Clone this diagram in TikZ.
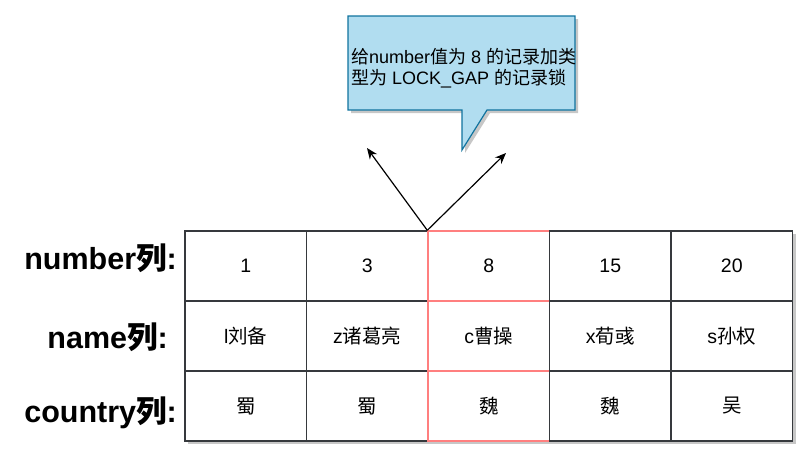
\documentclass[tikz,border=0pt]{standalone}
\usepackage{fontspec}
\setmainfont{Liberation Sans}
\newfontfamily\cjk{Noto Sans CJK SC}
\usetikzlibrary{arrows.meta,shadows}

\definecolor{notefill}{HTML}{B1DDF0}
\definecolor{noteline}{HTML}{10739E}
\definecolor{cellline}{HTML}{36393D}
\definecolor{lockline}{HTML}{FF7F7F}

\tikzset{
  cellshadow/.style={general shadow={fill=black!22, shadow xshift=3pt, shadow yshift=-3pt}},
  cell/.style={draw=cellline, line width=1.4pt, fill=white, cellshadow,
    minimum width=121.5pt, minimum height=70pt, inner sep=0pt,
    font=\fontsize{19.5}{22}\selectfont},
  lockcell/.style={cell, draw=lockline},
  collabel/.style={inner sep=0pt, font=\fontsize{30.5}{33}\selectfont\bfseries},
  pointer/.style={-{Stealth[length=11pt, width=9pt]}, line width=1.2pt},
  notebox/.style={draw=noteline, fill=notefill, line width=1.2pt, cellshadow}
}

\begin{document}
\begin{tikzpicture}[x=1pt, y=-1pt]
  \useasboundingbox (0, 0) rectangle (804, 464);

  % callout
  \draw [notebox] (348, 16) -- (575, 16) -- (575, 110) -- (487, 110)
    -- (462, 150) -- (462, 110) -- (348, 110) -- cycle;
  \node [anchor=north west, align=left, inner sep=0pt,
    font=\fontsize{18}{21}\selectfont] (note) at (351, 48)
    {{\cjk 给}number{\cjk 值为} 8 {\cjk 的记录加类}\\{\cjk 型为} LOCK\_GAP {\cjk 的记录锁}};

  % table
  \foreach \num/\who/\land [count=\i] in
    {1/l{\cjk 刘备}/{\cjk 蜀}, 3/z{\cjk 诸葛亮}/{\cjk 蜀}, 8/c{\cjk 曹操}/{\cjk 魏},
     15/x{\cjk 荀彧}/{\cjk 魏}, 20/s{\cjk 孙权}/{\cjk 吴}} {
    \ifnum\i=3
      \tikzset{thiscell/.style={lockcell}}
    \else
      \tikzset{thiscell/.style={cell}}
    \fi
    \node [thiscell] (num\i) at (185 + 121.5*\i - 60.75, 266) {\num};
    \node [thiscell] (name\i) at (185 + 121.5*\i - 60.75, 336) {\who};
    \node [thiscell] (land\i) at (185 + 121.5*\i - 60.75, 406) {\land};
  }

  % row labels
  \node [collabel, anchor=base east] (numlbl) at (177, 269) {number{\cjk 列}:};
  \node [collabel, anchor=base east] (namelbl) at (168, 348) {name{\cjk 列}:};
  \node [collabel, anchor=base east] (landlbl) at (177, 422) {country{\cjk 列}:};

  % arrows
  \coordinate (tipl) at (367, 148);
  \coordinate (tipr) at (506, 153);
  \draw [pointer] (num3.north west) -- (tipl);
  \draw [pointer] (num3.north west) -- (tipr);
\end{tikzpicture}
\end{document}
